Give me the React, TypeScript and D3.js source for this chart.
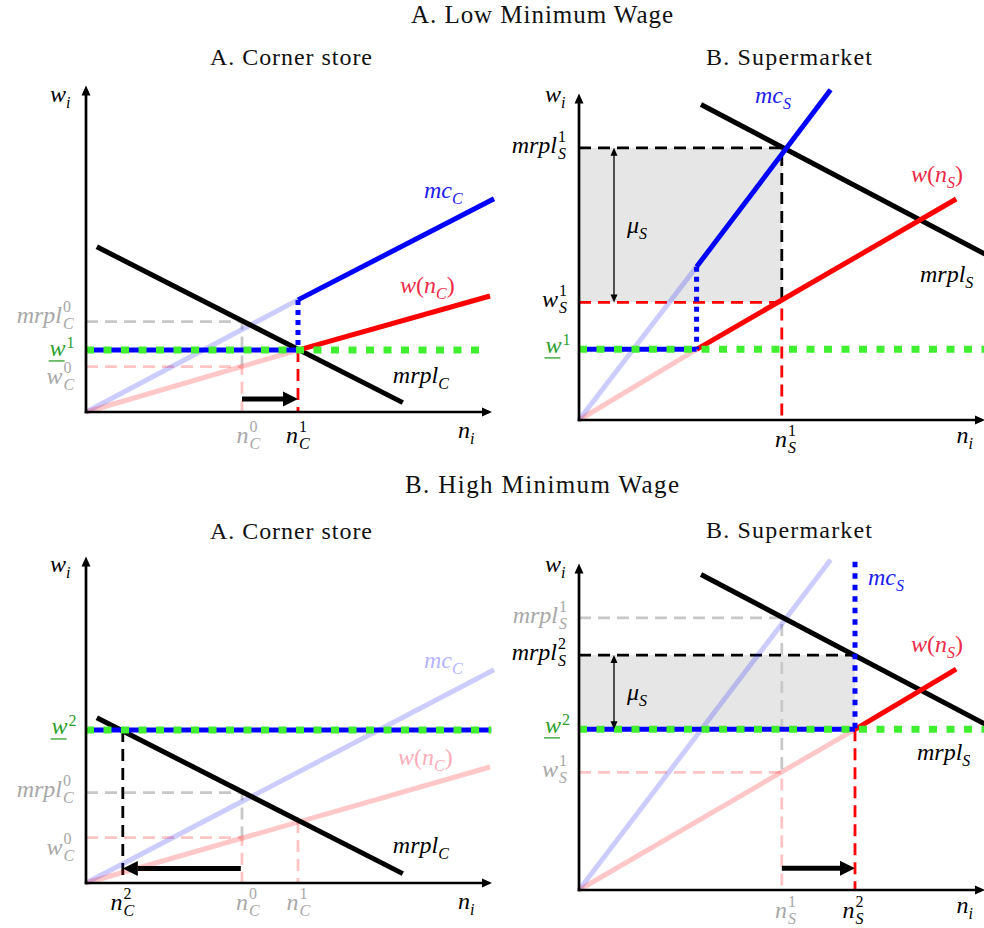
import React, { useEffect } from "react";
import * as d3 from "d3";

type P = [number, number];

// ---- corner store: curves in [n, w] units ----
const cornerMrpl: P[] = [[2.7, 51.0], [79.2, 2.9]];
const cornerMc: P[] = [[0, 0], [53, 34.6], [102, 65.8]];
const cornerWage: P[] = [[0, 0], [53, 19.1], [101, 35.8]];
const cornerN = [39, 53, 9.2]; // n_C^0, n_C^1, n_C^2
const cornerW0 = 14.0; // w_C^0
const cornerMrpl0 = 27.9; // mrpl_C^0
const cornerMinWage = [19.1, 47.2]; // w^1, w^2

// ---- supermarket ----
const marketMrpl: P[] = [[30.5, 97.4], [101.5, 51.2]];
const marketMc: P[] = [[0, 0], [29.4, 47.3], [62.9, 101.9]];
const marketWage: P[] = [[0, 0], [29.4, 21.8], [69, 49.6], [94.3, 68.2]];
const marketN = [29.4, 50.7, 69]; // kink at w^1, n_S^1, n_S^2
const marketW1 = 36.3; // w_S^1
const marketMrplLv = [84.0, 72.5]; // mrpl_S^1, mrpl_S^2
const marketMinWage = [21.8, 49.6]; // w^1, w^2

const BLUE = "#0000ff";
const RED = "#ff0000";
const GREEN = "#40f030";
const GRAY = "#c8c8c8";
const PINK = "#ffc4c4";
const LBL_BLUE = "#2020ee";
const LBL_RED = "#ee2a48";
const LBL_GREEN = "#2ca02c";
const LBL_GRAY = "#a8a8a8";
const MATH = "Liberation Serif";
const DASH = "12 7";
const BASE = 24;
const SCRIPT = 16;

const mkScales = (ox: number, oy: number) => ({
  x: d3.scaleLinear().domain([0, 100]).range([ox, ox + 400]),
  y: d3.scaleLinear().domain([0, 100]).range([oy, oy - 324]),
});
type S = ReturnType<typeof mkScales>;

const linePath = (s: S, pts: P[]) =>
  d3.line<P>().x((d) => s.x(d[0])).y((d) => s.y(d[1]))(pts) || "";

function Seg({ s, pts, color, width = 5, dash, opacity }: any) {
  return (
    <path
      d={linePath(s, pts)}
      fill="none"
      stroke={color}
      strokeWidth={width}
      strokeDasharray={dash}
      strokeOpacity={opacity}
    />
  );
}

function Axes({ s }: { s: S }) {
  const x0 = s.x(0), y0 = s.y(0), xt = s.x(101.5), yt = s.y(100.8);
  return (
    <g fill="#000">
      <line x1={x0} y1={y0 + 1.3} x2={x0} y2={yt + 6} stroke="#000" strokeWidth={2.7} />
      <polygon points={`${x0},${yt} ${x0 - 4.5},${yt + 10} ${x0 + 4.5},${yt + 10}`} />
      <line x1={x0 - 1.3} y1={y0} x2={xt - 6} y2={y0} stroke="#000" strokeWidth={2.7} />
      <polygon points={`${xt},${y0} ${xt - 10},${y0 - 4.5} ${xt - 10},${y0 + 4.5}`} />
    </g>
  );
}

function Shift({ s, from, to, at }: { s: S; from: number; to: number; at: number }) {
  const x1 = s.x(from), x2 = s.x(to), y = s.y(at);
  const dir = Math.sign(x2 - x1), head = 15;
  return (
    <g>
      <line x1={x1} y1={y} x2={x2 - dir * head} y2={y} stroke="#000" strokeWidth={5} />
      <polygon points={`${x2},${y} ${x2 - dir * head},${y - 7.5} ${x2 - dir * head},${y + 7.5}`} fill="#000" />
    </g>
  );
}

function Markup({ s, at, lo, hi }: { s: S; at: number; lo: number; hi: number }) {
  const x = s.x(at), y1 = s.y(hi), y2 = s.y(lo);
  return (
    <g fill="#000">
      <line x1={x} y1={y1 + 4} x2={x} y2={y2 - 4} stroke="#000" strokeWidth={1.3} />
      <polygon points={`${x},${y1} ${x - 3.5},${y1 + 8} ${x + 3.5},${y1 + 8}`} />
      <polygon points={`${x},${y2} ${x - 3.5},${y2 - 8} ${x + 3.5},${y2 - 8}`} />
    </g>
  );
}

// base with stacked scripts; x is the junction between base and scripts
function Stack({ x, y, base, sup, sub, fill, bar }: any) {
  return (
    <g fill={fill} fontFamily={MATH}>
      <text x={x} y={y} fontSize={BASE} fontStyle="italic" textAnchor="end">{base}</text>
      {sup && <text x={x + 1} y={y - (sub ? 11 : 8)} fontSize={SCRIPT}>{sup}</text>}
      {sub && <text x={x + 1} y={y + 6} fontSize={SCRIPT} fontStyle="italic">{sub}</text>}
      {bar && <line x1={x - 17} x2={x - 1} y1={y + 5} y2={y + 5} stroke={fill} strokeWidth={1.3} />}
    </g>
  );
}

type Part = { t: string; sub?: boolean; up?: boolean };
const subbed = (b: string, i: string): Part[] => [{ t: b }, { t: i, sub: true }];
const wOf = (i: string): Part[] => [{ t: "w" }, { t: "(", up: true }, { t: "n" }, { t: i, sub: true }, { t: ")", up: true }];

function MathText({ x, y, parts, fill = "#000" }: { x: number; y: number; parts: Part[]; fill?: string }) {
  let low = false;
  return (
    <text x={x} y={y} fill={fill} fontFamily={MATH} fontSize={BASE}>
      {parts.map((p, i) => {
        const dy = p.sub ? (low ? 0 : 6) : low ? -6 : 0;
        low = !!p.sub;
        return (
          <tspan key={i} dy={dy} fontSize={p.sub ? SCRIPT : BASE} fontStyle={p.up ? "normal" : "italic"}>
            {p.t}
          </tspan>
        );
      })}
    </text>
  );
}

function LowCorner() {
  const s = mkScales(86, 412);
  const [n0, n1] = cornerN;
  const w1 = cornerMinWage[0];
  const X = s.x, Y = s.y;
  return (
    <g>
      <Seg s={s} pts={[[0, cornerMrpl0], [n0, cornerMrpl0], [n0, cornerW0]]} color={GRAY} width={2.8} dash={DASH} />
      <Seg s={s} pts={[[0, cornerW0], [n0, cornerW0], [n0, 0]]} color={PINK} width={2.8} dash={DASH} />
      <Seg s={s} pts={[[n1, w1], [n1, 0]]} color={RED} width={2.8} dash={DASH} />
      <Seg s={s} pts={cornerMc.slice(0, 2)} color={BLUE} opacity={0.2} />
      <Seg s={s} pts={cornerWage.slice(0, 2)} color={RED} opacity={0.22} />
      <Seg s={s} pts={cornerMrpl} color="#000" />
      <Seg s={s} pts={cornerMc.slice(1)} color={BLUE} />
      <Seg s={s} pts={cornerWage.slice(1)} color={RED} />
      <Seg s={s} pts={[[n1, cornerMc[1][1]], [n1, w1]]} color={BLUE} width={5} dash="5 5" />
      <Seg s={s} pts={[[0, w1], [n1, w1]]} color={BLUE} width={5} />
      <Seg s={s} pts={[[0, w1], [100.2, w1]]} color={GREEN} width={7} dash="8 9.5" />
      <Shift s={s} from={n0} to={n1} at={4.0} />
      <Axes s={s} />
      <MathText x={X(-9)} y={Y(95.7)} parts={subbed("w", "i")} />
      <MathText x={X(93)} y={Y(-8)} parts={subbed("n", "i")} />
      <Stack x={X(40.6)} y={Y(-9.6)} base="n" sup="0" sub="C" fill={LBL_GRAY} />
      <Stack x={X(53)} y={Y(-9.6)} base="n" sup="1" sub="C" fill="#000" />
      <Stack x={X(-6)} y={Y(27.4)} base="mrpl" sup="0" sub="C" fill={LBL_GRAY} />
      <Stack x={X(-5.1)} y={Y(17.3)} base="w" sup="1" fill={LBL_GREEN} bar />
      <Stack x={X(-5.9)} y={Y(8.6)} base="w" sup="0" sub="C" fill={LBL_GRAY} />
      <MathText x={X(84.5)} y={Y(66)} parts={subbed("mc", "C")} fill={LBL_BLUE} />
      <MathText x={X(78.5)} y={Y(36.7)} parts={wOf("C")} fill={LBL_RED} />
      <MathText x={X(76.7)} y={Y(9)} parts={subbed("mrpl", "C")} />
    </g>
  );
}

function LowMarket() {
  const s = mkScales(579, 420);
  const [nk, n1] = marketN;
  const w1 = marketMinWage[0];
  const m1 = marketMrplLv[0];
  const X = s.x, Y = s.y;
  return (
    <g>
      <rect x={X(0)} y={Y(m1)} width={X(n1) - X(0)} height={Y(marketW1) - Y(m1)} fill="#e6e6e6" />
      <Seg s={s} pts={[[0, m1], [n1, m1], [n1, marketW1]]} color="#000" width={2.8} dash={DASH} />
      <Seg s={s} pts={[[0, marketW1], [n1, marketW1], [n1, 0]]} color={RED} width={2.8} dash={DASH} />
      <Seg s={s} pts={marketMc.slice(0, 2)} color={BLUE} opacity={0.2} />
      <Seg s={s} pts={marketWage.slice(0, 2)} color={RED} opacity={0.22} />
      <Seg s={s} pts={marketMrpl} color="#000" />
      <Seg s={s} pts={marketMc.slice(1)} color={BLUE} />
      <Seg s={s} pts={[marketWage[1], marketWage[3]]} color={RED} />
      <Seg s={s} pts={[[nk, marketMc[1][1]], [nk, w1]]} color={BLUE} width={5} dash="5 5" />
      <Seg s={s} pts={[[0, w1], [nk, w1]]} color={BLUE} width={5} />
      <Seg s={s} pts={[[0, w1], [103, w1]]} color={GREEN} width={7} dash="8 9.5" />
      <Markup s={s} at={8.75} lo={marketW1} hi={m1} />
      <Axes s={s} />
      <MathText x={X(-8.5)} y={Y(98.1)} parts={subbed("w", "i")} />
      <MathText x={X(94.4)} y={Y(-7.1)} parts={subbed("n", "i")} />
      <Stack x={X(52)} y={Y(-8.3)} base="n" sup="1" sub="S" fill="#000" />
      <Stack x={X(-5.5)} y={Y(82.4)} base="mrpl" sup="1" sub="S" fill="#000" />
      <Stack x={X(-5.25)} y={Y(34.9)} base="w" sup="1" sub="S" fill="#000" />
      <Stack x={X(-4.4)} y={Y(20.7)} base="w" sup="1" fill={LBL_GREEN} bar />
      <MathText x={X(44)} y={Y(97.8)} parts={subbed("mc", "S")} fill={LBL_BLUE} />
      <MathText x={X(83)} y={Y(73.5)} parts={wOf("S")} fill={LBL_RED} />
      <MathText x={X(85.25)} y={Y(42.6)} parts={subbed("mrpl", "S")} />
      <MathText x={X(12)} y={Y(57.7)} parts={subbed("μ", "S")} />
    </g>
  );
}

function HighCorner() {
  const s = mkScales(86, 883);
  const [n0, n1, n2] = cornerN;
  const w2 = cornerMinWage[1];
  const X = s.x, Y = s.y;
  return (
    <g>
      <Seg s={s} pts={[[0, cornerMrpl0], [n0, cornerMrpl0], [n0, cornerW0]]} color={GRAY} width={2.8} dash={DASH} />
      <Seg s={s} pts={[[0, cornerW0], [n0, cornerW0], [n0, 0]]} color={PINK} width={2.8} dash={DASH} />
      <Seg s={s} pts={[[n1, cornerWage[1][1]], [n1, 0]]} color={PINK} width={2.8} dash={DASH} />
      <Seg s={s} pts={[[n2, w2], [n2, 0]]} color="#000" width={2.8} dash={DASH} />
      <Seg s={s} pts={[cornerMc[0], cornerMc[2]]} color={BLUE} opacity={0.2} />
      <Seg s={s} pts={[cornerWage[0], cornerWage[2]]} color={RED} opacity={0.22} />
      <Seg s={s} pts={cornerMrpl} color="#000" />
      <Seg s={s} pts={[[0, w2], [101.3, w2]]} color={BLUE} width={5} />
      <Seg s={s} pts={[[0, w2], [101.3, w2]]} color={GREEN} width={7} dash="8 9.5" />
      <Shift s={s} from={38.7} to={n2} at={4.5} />
      <Axes s={s} />
      <MathText x={X(-9)} y={Y(96)} parts={subbed("w", "i")} />
      <MathText x={X(93)} y={Y(-8)} parts={subbed("n", "i")} />
      <Stack x={X(9.1)} y={Y(-8.3)} base="n" sup="2" sub="C" fill="#000" />
      <Stack x={X(40.5)} y={Y(-8.3)} base="n" sup="0" sub="C" fill={LBL_GRAY} />
      <Stack x={X(53.1)} y={Y(-8.3)} base="n" sup="1" sub="C" fill={LBL_GRAY} />
      <Stack x={X(-4.6)} y={Y(46)} base="w" sup="2" fill={LBL_GREEN} bar />
      <Stack x={X(-6)} y={Y(26.5)} base="mrpl" sup="0" sub="C" fill={LBL_GRAY} />
      <Stack x={X(-5.9)} y={Y(8.6)} base="w" sup="0" sub="C" fill={LBL_GRAY} />
      <MathText x={X(84.5)} y={Y(66.4)} parts={subbed("mc", "C")} fill="#b4b4ff" />
      <MathText x={X(78)} y={Y(36.4)} parts={wOf("C")} fill="#ffacb8" />
      <MathText x={X(76.7)} y={Y(9.3)} parts={subbed("mrpl", "C")} />
    </g>
  );
}

function HighMarket() {
  const s = mkScales(579, 890);
  const [, n1, n2] = marketN;
  const w2 = marketMinWage[1];
  const [m1, m2] = marketMrplLv;
  const X = s.x, Y = s.y;
  return (
    <g>
      <rect x={X(0)} y={Y(m2)} width={X(n2) - X(0)} height={Y(w2) - Y(m2)} fill="#e6e6e6" />
      <Seg s={s} pts={[[0, m1], [n1, m1], [n1, marketW1]]} color={GRAY} width={2.8} dash={DASH} />
      <Seg s={s} pts={[[0, marketW1], [n1, marketW1], [n1, 0]]} color={PINK} width={2.8} dash={DASH} />
      <Seg s={s} pts={[[0, m2], [n2, m2]]} color="#000" width={2.8} dash={DASH} />
      <Seg s={s} pts={[[n2, w2], [n2, 0]]} color={RED} width={2.8} dash={DASH} />
      <Seg s={s} pts={[marketMc[0], marketMc[2]]} color={BLUE} opacity={0.2} />
      <Seg s={s} pts={[marketWage[0], marketWage[2]]} color={RED} opacity={0.22} />
      <Seg s={s} pts={marketMrpl} color="#000" />
      <Seg s={s} pts={marketWage.slice(2)} color={RED} />
      <Seg s={s} pts={[[n2, 101.3], [n2, w2]]} color={BLUE} width={5} dash="5.5 6" />
      <Seg s={s} pts={[[0, w2], [n2, w2]]} color={BLUE} width={5} />
      <Seg s={s} pts={[[0, w2], [103, w2]]} color={GREEN} width={7} dash="8 9.5" />
      <Markup s={s} at={8.75} lo={w2} hi={m2} />
      <Shift s={s} from={n1} to={n2} at={6.7} />
      <Axes s={s} />
      <MathText x={X(-8.5)} y={Y(98.1)} parts={subbed("w", "i")} />
      <MathText x={X(94.4)} y={Y(-7.1)} parts={subbed("n", "i")} />
      <Stack x={X(52)} y={Y(-8.6)} base="n" sup="1" sub="S" fill={LBL_GRAY} />
      <Stack x={X(68.9)} y={Y(-8.6)} base="n" sup="2" sub="S" fill="#000" />
      <Stack x={X(-5.25)} y={Y(82.4)} base="mrpl" sup="1" sub="S" fill={LBL_GRAY} />
      <Stack x={X(-5.5)} y={Y(71)} base="mrpl" sup="2" sub="S" fill="#000" />
      <Stack x={X(-4.5)} y={Y(48.5)} base="w" sup="2" fill={LBL_GREEN} bar />
      <Stack x={X(-5.25)} y={Y(34.9)} base="w" sup="1" sub="S" fill={LBL_GRAY} />
      <MathText x={X(72.25)} y={Y(94.1)} parts={subbed("mc", "S")} fill={LBL_BLUE} />
      <MathText x={X(83)} y={Y(73.5)} parts={wOf("S")} fill={LBL_RED} />
      <MathText x={X(84.5)} y={Y(40.1)} parts={subbed("mrpl", "S")} />
      <MathText x={X(12)} y={Y(58.6)} parts={subbed("μ", "S")} />
    </g>
  );
}

export default function App() {
  useEffect(() => {
    document.body.style.margin = "0";
  }, []);
  const title = { fontFamily: "Liberation Serif", textAnchor: "middle" as const, fill: "#111" };
  return (
    <svg width={984} height={928} style={{ display: "block", background: "#fff" }}>
      <text x={542} y={23} fontSize={25} textLength={262} lengthAdjust="spacing" {...title}>A. Low Minimum Wage</text>
      <text x={291} y={65} fontSize={24} textLength={162} lengthAdjust="spacing" {...title}>A. Corner store</text>
      <text x={789} y={65} fontSize={24} textLength={166} lengthAdjust="spacing" {...title}>B. Supermarket</text>
      <text x={542} y={493} fontSize={25} textLength={274} lengthAdjust="spacing" {...title}>B. High Minimum Wage</text>
      <text x={291} y={539} fontSize={24} textLength={162} lengthAdjust="spacing" {...title}>A. Corner store</text>
      <text x={789} y={538} fontSize={24} textLength={166} lengthAdjust="spacing" {...title}>B. Supermarket</text>
      <LowCorner />
      <LowMarket />
      <HighCorner />
      <HighMarket />
    </svg>
  );
}
